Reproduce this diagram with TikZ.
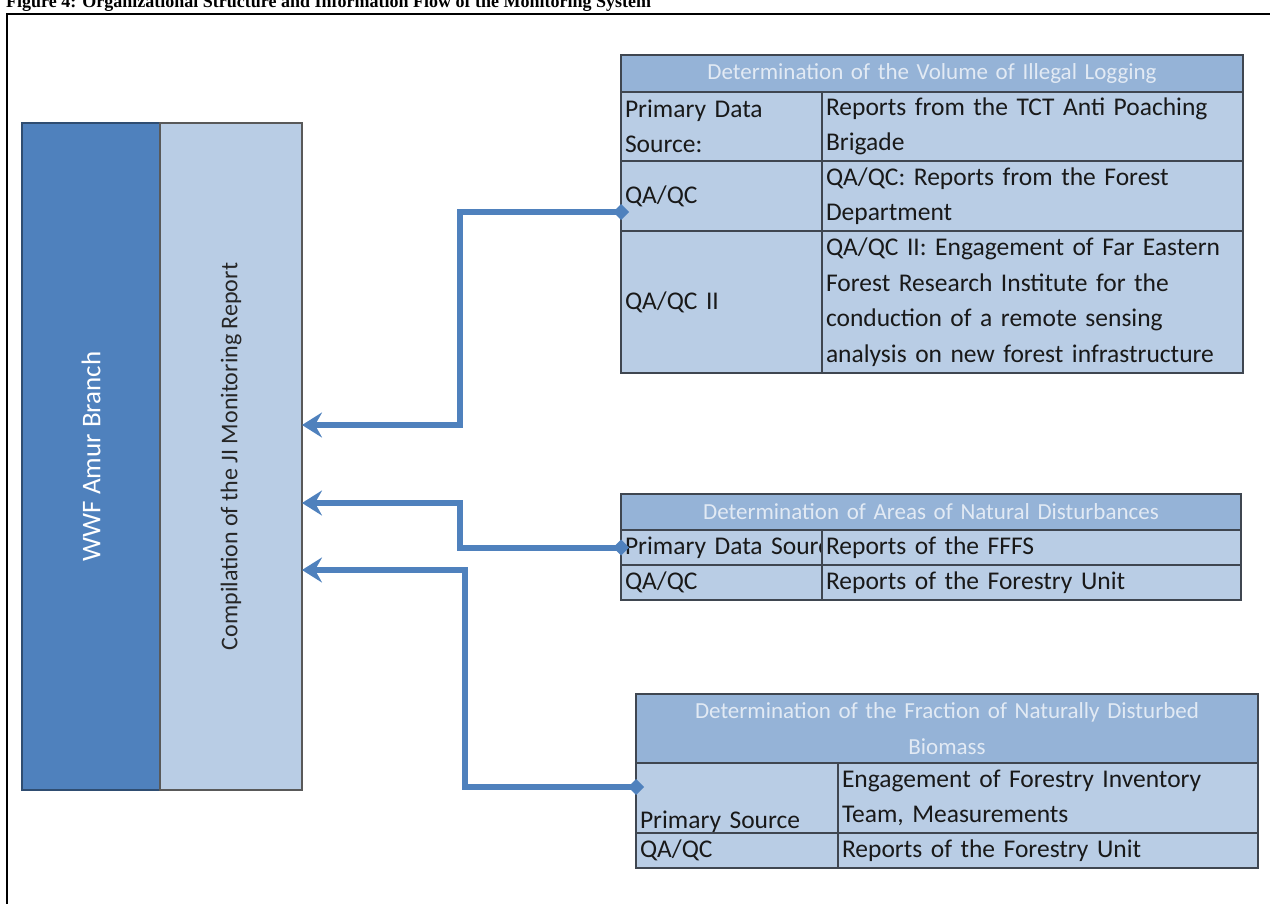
\documentclass[tikz,border=0pt]{standalone}
\usepackage{fontspec}
\setmainfont{Carlito}
\newfontfamily\titlefont{Liberation Serif}
\usetikzlibrary{arrows.meta,positioning,calc}
\definecolor{wwfblue}{HTML}{4F81BD}
\definecolor{paleblue}{HTML}{B9CDE5}
\definecolor{headblue}{HTML}{95B3D7}
\definecolor{headtext}{HTML}{E2EAF4}
\definecolor{gridline}{HTML}{3F4650}
\newcommand{\cellsize}{\fontsize{25.5}{35.5}\selectfont}
\newcommand{\headsize}{\fontsize{23}{35.5}\selectfont}
\newcommand{\boxsize}{\fontsize{24}{30}\selectfont}
\tikzset{
  cell/.style={draw=gridline,fill=paleblue,line width=2pt,outer sep=0pt,
    inner xsep=4pt,inner ysep=0pt,anchor=north west,align=left,
    text=black!90,font=\cellsize},
  headcell/.style={cell,fill=headblue,align=center,text=headtext,font=\headsize},
  orgbox/.style={line width=2pt,outer sep=0pt,anchor=north west,
    minimum height=667pt},
  flow/.style={line width=6pt,draw=wwfblue,
    {Diamond[length=16pt,width=16pt]}-{Stealth[length=20pt,width=25pt,inset=7pt]}}
}

\begin{document}
\begin{tikzpicture}[x=1pt,y=-1pt,line join=miter]
  % page window
  \useasboundingbox (0,0) rectangle (1270,904);
  \clip (0,0) rectangle (1270,904);

  % caption and frame (both run off the page)
  \node[anchor=base west,inner sep=0pt,
        font=\titlefont\bfseries\fontsize{18}{20}\selectfont] (caption) at (6,8)
    {Figure 4: Organizational Structure and Information Flow of the Monitoring System};
  \draw[line width=2pt] (7,14) rectangle (1300,940);

  % left column
  \node[orgbox,fill=wwfblue,draw=wwfblue!60!black,minimum width=138pt] (wwf) at (22,123) {};
  \node[orgbox,fill=paleblue,draw=black!65,minimum width=142pt] (report) at (160,123) {};
  \node[rotate=90,text=white,font=\fontsize{27}{30}\selectfont] (wwflabel) at (wwf.center)
    {WWF Amur Branch};
  \node[rotate=90,text=black!85,font=\boxsize] (reportlabel) at (report.center)
    {Compilation of the JI Monitoring Report};

  % table: illegal logging
  \node[headcell,text width=614pt,minimum height=37pt] (volhead) at (621,55)
    {Determination of the Volume of Illegal Logging};
  \node[cell,text width=193pt,minimum height=69pt] (volsrc) at (volhead.south west)
    {Primary Data\\Source:};
  \node[cell,text width=413pt,minimum height=69pt] (volsrcr) at (volsrc.north east)
    {Reports from the TCT Anti Poaching\\Brigade};
  \node[cell,text width=193pt,minimum height=70pt] (volqa) at (volsrc.south west) {QA/QC};
  \node[cell,text width=413pt,minimum height=70pt] (volqar) at (volqa.north east)
    {QA/QC: Reports from the Forest\\Department};
  \node[cell,text width=193pt,minimum height=142pt] (volqb) at (volqa.south west) {QA/QC II};
  \node[cell,text width=413pt,minimum height=142pt] (volqbr) at (volqb.north east)
    {QA/QC II: Engagement of Far Eastern\\Forest Research Institute for the\\conduction of a remote sensing\\analysis on new forest infrastructure};

  % table: natural disturbances
  \node[headcell,text width=612pt,minimum height=36pt] (arhead) at (621,494)
    {Determination of Areas of Natural Disturbances};
  \node[cell,text width=193pt,minimum height=35pt] (arsrc) at (arhead.south west)
    {\mbox{Primary Data Source}};
  \node[cell,text width=411pt,minimum height=35pt] (arsrcr) at (arsrc.north east)
    {Reports of the FFFS};
  \node[cell,text width=193pt,minimum height=35pt] (arqa) at (arsrc.south west) {QA/QC};
  \node[cell,text width=411pt,minimum height=35pt] (arqar) at (arqa.north east)
    {Reports of the Forestry Unit};

  % table: disturbed biomass
  \node[headcell,text width=614pt,minimum height=69pt] (frhead) at (636,694)
    {Determination of the Fraction of Naturally Disturbed\\Biomass};
  \node[cell,text width=194pt,minimum height=70pt,text depth=10pt] (frsrc) at (frhead.south west)
    {\mbox{}\\Primary Source};
  \node[cell,text width=412pt,minimum height=70pt] (frsrcr) at (frsrc.north east)
    {Engagement of Forestry Inventory\\Team, Measurements};
  \node[cell,text width=194pt,minimum height=35pt] (frqa) at (frsrc.south west) {QA/QC};
  \node[cell,text width=412pt,minimum height=35pt] (frqar) at (frqa.north east)
    {Reports of the Forestry Unit};

  % information flow
  \coordinate (busA) at (460,425);
  \coordinate (busB) at (460,503);
  \coordinate (busC) at (465,570);
  \draw[flow] ([xshift=8pt,yshift=-16pt]volqa.west) -| (busA) -- (report.east |- busA);
  \draw[flow] ([xshift=8pt]arsrc.west) -| (busB) -- (report.east |- busB);
  \draw[flow] ([xshift=8pt,yshift=11pt]frsrc.west) -| (busC) -- (report.east |- busC);
\end{tikzpicture}
\end{document}
